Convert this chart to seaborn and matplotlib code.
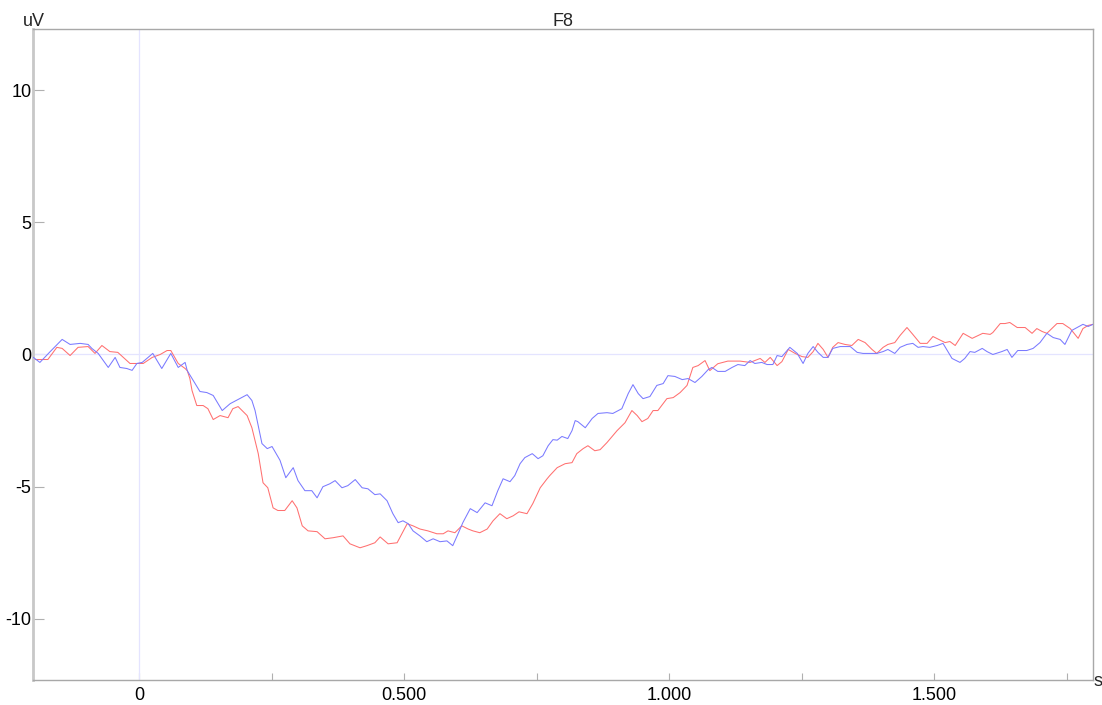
import numpy as np
import pandas as pd
import matplotlib
matplotlib.use("Agg")
import matplotlib.pyplot as plt
from matplotlib.ticker import MultipleLocator, FixedLocator, FuncFormatter
import seaborn as sns

# Channel F8 averaged ERP, condition A (blue)
t_blue = [-0.200, -0.187, -0.168, -0.145, -0.130, -0.111, -0.096, -0.089, -0.077,
          -0.058, -0.045, -0.036, -0.023, -0.013, -0.004, 0.006, 0.026, 0.043,
          0.053, 0.060, 0.074, 0.087, 0.091, 0.106, 0.115, 0.128, 0.140, 0.157,
          0.172, 0.187, 0.204, 0.213, 0.219, 0.232, 0.242, 0.251, 0.266, 0.277,
          0.291, 0.300, 0.313, 0.326, 0.336, 0.347, 0.360, 0.370, 0.383, 0.394,
          0.408, 0.421, 0.432, 0.445, 0.455, 0.468, 0.479, 0.489, 0.498, 0.508,
          0.517, 0.530, 0.543, 0.555, 0.568, 0.581, 0.592, 0.602, 0.611, 0.625,
          0.638, 0.653, 0.666, 0.677, 0.687, 0.700, 0.709, 0.719, 0.728, 0.742,
          0.753, 0.762, 0.772, 0.781, 0.789, 0.798, 0.809, 0.817, 0.823, 0.828,
          0.842, 0.855, 0.866, 0.883, 0.894, 0.911, 0.923, 0.932, 0.942, 0.951,
          0.964, 0.977, 0.989, 0.998, 1.011, 1.025, 1.036, 1.049, 1.062, 1.074,
          1.081, 1.092, 1.106, 1.119, 1.130, 1.143, 1.153, 1.162, 1.175, 1.185,
          1.196, 1.204, 1.213, 1.228, 1.242, 1.253, 1.262, 1.272, 1.281, 1.291,
          1.300, 1.309, 1.323, 1.342, 1.355, 1.366, 1.379, 1.392, 1.404, 1.413,
          1.426, 1.436, 1.449, 1.460, 1.470, 1.479, 1.492, 1.506, 1.517, 1.525,
          1.534, 1.549, 1.558, 1.568, 1.577, 1.591, 1.600, 1.611, 1.628, 1.638,
          1.647, 1.658, 1.675, 1.687, 1.700, 1.713, 1.725, 1.738, 1.747, 1.760,
          1.770, 1.781, 1.791, 1.800]
v_blue = [-0.10, -0.30, 0.10, 0.57, 0.38, 0.42, 0.38, 0.23, 0.04,
          -0.49, -0.11, -0.49, -0.53, -0.60, -0.34, -0.30, 0.04, -0.53,
          -0.19, 0.04, -0.49, -0.30, -0.61, -1.10, -1.40, -1.44, -1.55, -2.12,
          -1.86, -1.70, -1.52, -1.74, -2.12, -3.37, -3.56, -3.48, -4.00, -4.66,
          -4.28, -4.77, -5.15, -5.15, -5.42, -5.00, -4.89, -4.77, -5.04, -4.96,
          -4.73, -5.04, -5.08, -5.30, -5.27, -5.53, -6.02, -6.36, -6.29, -6.40,
          -6.67, -6.86, -7.08, -6.97, -7.08, -7.05, -7.23, -6.78, -6.36, -5.83,
          -5.98, -5.61, -5.72, -5.15, -4.70, -4.81, -4.58, -4.13, -3.90, -3.75,
          -3.94, -3.83, -3.45, -3.22, -3.24, -3.10, -3.18, -2.88, -2.50, -2.54,
          -2.77, -2.42, -2.23, -2.20, -2.23, -2.05, -1.48, -1.14, -1.48, -1.67,
          -1.59, -1.17, -1.10, -0.80, -0.83, -0.95, -0.91, -1.06, -0.83, -0.57,
          -0.49, -0.64, -0.64, -0.49, -0.38, -0.42, -0.23, -0.34, -0.30, -0.38,
          -0.38, -0.04, -0.08, 0.27, 0.04, -0.34, 0.04, 0.30, 0.08, -0.11,
          -0.11, 0.23, 0.30, 0.30, 0.08, 0.04, 0.04, 0.04, 0.11, 0.19,
          0.04, 0.27, 0.38, 0.42, 0.27, 0.30, 0.27, 0.34, 0.42, 0.15,
          -0.15, -0.30, -0.15, 0.11, 0.08, 0.23, 0.11, 0.00, 0.11, 0.19,
          -0.11, 0.15, 0.15, 0.23, 0.45, 0.80, 0.64, 0.57, 0.38, 0.91,
          1.02, 1.14, 1.06, 1.14]

# Channel F8 averaged ERP, condition B (red)
t_red = [-0.200, -0.187, -0.172, -0.155, -0.145, -0.130, -0.115, -0.096, -0.083,
         -0.070, -0.055, -0.040, -0.017, -0.002, 0.008, 0.025, 0.040, 0.053,
         0.060, 0.074, 0.087, 0.091, 0.096, 0.100, 0.109, 0.121, 0.130, 0.140,
         0.153, 0.168, 0.177, 0.187, 0.204, 0.213, 0.225, 0.234, 0.243, 0.253,
         0.262, 0.275, 0.289, 0.298, 0.308, 0.319, 0.336, 0.351, 0.366, 0.385,
         0.398, 0.417, 0.430, 0.445, 0.455, 0.470, 0.487, 0.496, 0.506, 0.517,
         0.530, 0.545, 0.562, 0.574, 0.583, 0.596, 0.609, 0.621, 0.630, 0.643,
         0.657, 0.668, 0.681, 0.694, 0.706, 0.717, 0.732, 0.743, 0.757, 0.770,
         0.775, 0.789, 0.804, 0.817, 0.826, 0.838, 0.847, 0.860, 0.870, 0.883,
         0.902, 0.917, 0.930, 0.940, 0.949, 0.960, 0.970, 0.979, 0.996, 1.008,
         1.021, 1.034, 1.045, 1.055, 1.068, 1.077, 1.092, 1.111, 1.134, 1.153,
         1.172, 1.181, 1.191, 1.204, 1.213, 1.225, 1.238, 1.251, 1.262, 1.272,
         1.281, 1.291, 1.300, 1.309, 1.319, 1.332, 1.345, 1.357, 1.370, 1.383,
         1.392, 1.404, 1.413, 1.426, 1.436, 1.449, 1.460, 1.474, 1.487, 1.498,
         1.511, 1.521, 1.530, 1.540, 1.555, 1.572, 1.592, 1.606, 1.611, 1.625,
         1.634, 1.643, 1.657, 1.672, 1.685, 1.694, 1.704, 1.713, 1.732, 1.743,
         1.757, 1.772, 1.781, 1.791, 1.800]
v_red = [-0.19, -0.19, -0.19, 0.27, 0.23, -0.04, 0.27, 0.30, 0.04,
         0.34, 0.11, 0.08, -0.34, -0.34, -0.34, -0.11, 0.00, 0.15,
         0.15, -0.34, -0.53, -0.61, -0.91, -1.36, -1.93, -1.93, -2.05, -2.46,
         -2.31, -2.39, -2.05, -1.97, -2.31, -2.77, -3.75, -4.85, -5.04, -5.80,
         -5.90, -5.90, -5.53, -5.80, -6.48, -6.67, -6.70, -6.97, -6.93, -6.86,
         -7.16, -7.31, -7.23, -7.12, -6.90, -7.16, -7.12, -6.78, -6.40, -6.48,
         -6.60, -6.67, -6.78, -6.78, -6.67, -6.74, -6.48, -6.60, -6.67, -6.74,
         -6.60, -6.29, -6.02, -6.21, -6.10, -5.95, -6.02, -5.64, -5.04, -4.70,
         -4.58, -4.28, -4.13, -4.09, -3.75, -3.56, -3.45, -3.64, -3.60, -3.33,
         -2.88, -2.58, -2.12, -2.31, -2.54, -2.42, -2.12, -2.12, -1.67, -1.63,
         -1.44, -1.17, -0.49, -0.42, -0.23, -0.61, -0.35, -0.25, -0.25, -0.30,
         -0.15, -0.30, -0.11, -0.42, -0.27, 0.19, 0.04, -0.08, -0.11, 0.11,
         0.42, 0.19, -0.11, 0.27, 0.45, 0.38, 0.34, 0.57, 0.45, 0.19,
         0.04, 0.27, 0.38, 0.45, 0.72, 1.02, 0.76, 0.42, 0.42, 0.68,
         0.55, 0.45, 0.49, 0.34, 0.80, 0.61, 0.80, 0.76, 0.83, 1.17,
         1.17, 1.21, 1.02, 1.02, 0.80, 0.98, 0.87, 0.80, 1.17, 1.17,
         0.98, 0.61, 0.98, 1.10, 1.14]

y_ticks = [-10, -5, 0, 5, 10]
x_label_ticks = [0.0, 0.5, 1.0, 1.5]

sns.set_theme(style="white")
plt.rcParams["font.family"] = ["Liberation Sans", "DejaVu Sans"]

fig = plt.figure(figsize=(11.02, 7.05), dpi=100)
ax = fig.add_axes([33 / 1102, 1 - 680 / 705, (1093 - 33) / 1102, (680 - 29.5) / 705])

# reference lines at zero
ax.axhline(0, color="#e4e4ff", lw=0.9, zorder=1)
ax.axvline(0, color="#e4e4ff", lw=0.9, zorder=1)

df_blue = pd.DataFrame({"t": t_blue, "v": v_blue})
df_red = pd.DataFrame({"t": t_red, "v": v_red})
sns.lineplot(data=df_blue, x="t", y="v", ax=ax, color="#7a7aff", lw=0.75,
             estimator=None, sort=False, zorder=3)
sns.lineplot(data=df_red, x="t", y="v", ax=ax, color="#ff7070", lw=0.75,
             estimator=None, sort=False, zorder=2)

ax.set_xlim(-0.2, 1.8)
ax.set_ylim(-12.31, 12.29)
ax.set_xlabel("")
ax.set_ylabel("")

ax.xaxis.set_major_locator(MultipleLocator(0.25))
ax.xaxis.set_major_formatter(FuncFormatter(
    lambda x, p: ("0" if abs(x) < 1e-9 else f"{x:.3f}") if any(abs(x - k) < 1e-9 for k in x_label_ticks) else ""))
ax.yaxis.set_major_locator(FixedLocator(y_ticks))
ax.yaxis.set_major_formatter(FuncFormatter(lambda y, p: f"{int(y)}"))

ax.tick_params(axis="x", direction="in", length=5, width=0.8, color="#b0b0b0",
               labelsize=13, pad=5, bottom=True, labelcolor="black")
ax.tick_params(axis="y", direction="in", length=8, width=0.8, color="#b0b0b0",
               labelsize=13, pad=1, left=True, labelcolor="black")

for side in ["top", "bottom", "right"]:
    ax.spines[side].set_color("#a8a8a8")
    ax.spines[side].set_linewidth(1.0)
ax.spines["left"].set_color("#c8c8c8")
ax.spines["left"].set_linewidth(2.0)

fig.text(23 / 1102, 1 - 26 / 705, "uV", fontsize=13, va="baseline", ha="left")
fig.text(563 / 1102, 1 - 26 / 705, "F8", fontsize=13, va="baseline", ha="center")
fig.text(1094 / 1102, 1 - 686 / 705, "s", fontsize=13, va="baseline", ha="left")

fig.savefig("out.png", dpi=100)
